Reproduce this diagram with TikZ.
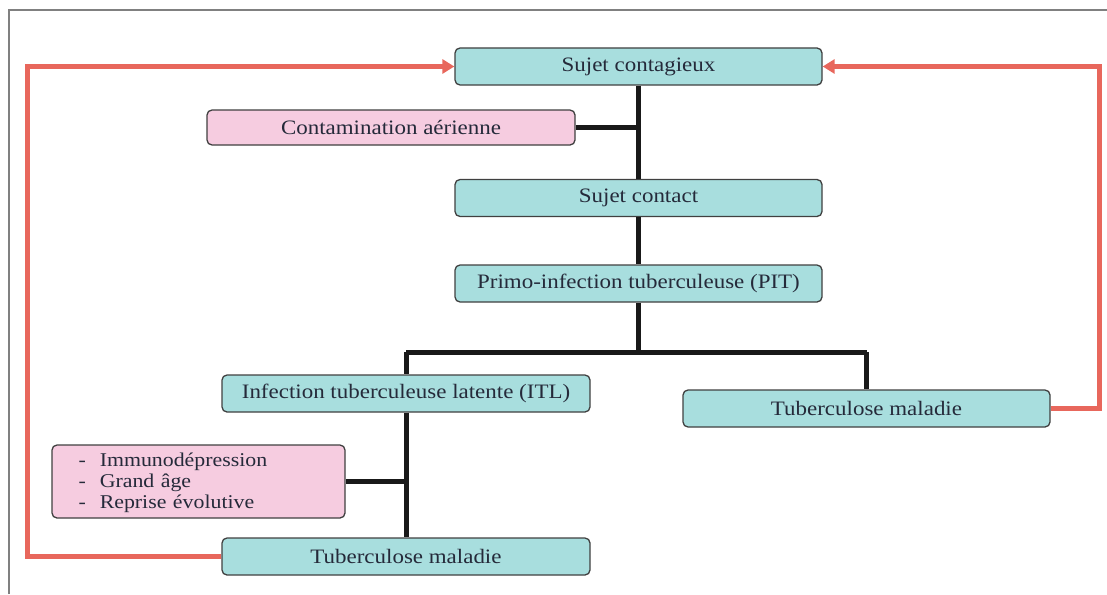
\documentclass[tikz,border=0pt]{standalone}
\usepackage{fontspec}
\setmainfont[FakeStretch=1.12]{Liberation Serif}
\usetikzlibrary{arrows.meta}
\definecolor{teal}{HTML}{A8DEDE}
\definecolor{pinkb}{HTML}{F6CCE0}
\definecolor{redl}{HTML}{E8675C}
\definecolor{txt}{HTML}{252A3A}
\begin{document}
\begin{tikzpicture}[x=1pt,y=-1pt,
  box/.style={draw=black!75, line width=1.3pt, rounded corners=5pt, fill=teal,
    minimum width=367pt, minimum height=37pt, inner sep=0pt, text=txt,
    font=\fontsize{20.5}{22}\selectfont},
  pbox/.style={box, fill=pinkb},
  link/.style={line width=5pt, black!90},
  back/.style={line width=5pt, redl, -{Triangle[length=12pt,width=14pt]}}]
\useasboundingbox (0,0) rectangle (1107,594);
\draw[gray, line width=2pt] (9,594) -- (9,10) -- (1107,10);
\node[box] (sc) at (638.5,66.5) {Sujet contagieux};
\node[pbox, minimum width=368pt, minimum height=35pt] (ca) at (391,127.5) {Contamination aérienne};
\node[box] (sct) at (638.5,198) {Sujet contact};
\node[box] (pit) at (638.5,283.5) {Primo-infection tuberculeuse (PIT)};
\node[box, minimum width=368pt] (itl) at (406,393.5) {Infection tuberculeuse latente (ITL)};
\node[box] (tmr) at (866.5,408.5) {Tuberculose maladie};
\node[pbox, minimum width=293pt, minimum height=73pt, align=left, text width=240pt,
  font=\fontsize{19.5}{21}\selectfont] (risk) at (198.5,481.5)
  {\rule{0pt}{8pt}\\[-13pt]-\hspace{14pt}Immunodépression\\-\hspace{14pt}Grand âge\\-\hspace{14pt}Reprise évolutive};
\node[box, minimum width=368pt] (tmb) at (406,556.5) {Tuberculose maladie};
\coordinate (j1) at (sc.south |- ca.east);
\coordinate (j2) at (pit.south |- 0,352);
\coordinate (j3) at (itl.south |- risk.east);
\draw[link] (sc.south) -- (sct.north);
\draw[link] (ca.east) -- (j1);
\draw[link] (sct.south) -- (pit.north);
\draw[link] (pit.south) -- (j2);
\draw[link] (itl.north |- j2) -- (tmr.north |- j2);
\draw[link] (itl.north |- j2) -- (itl.north);
\draw[link] (tmr.north |- j2) -- (tmr.north);
\draw[link] (itl.south) -- (tmb.north);
\draw[link] (risk.east) -- (j3);
\draw[back] (tmb.west) -| (27,66.5) -- (sc.west);
\draw[back] (tmr.east) -| (1099,66.5) -- (sc.east);
\end{tikzpicture}
\end{document}
